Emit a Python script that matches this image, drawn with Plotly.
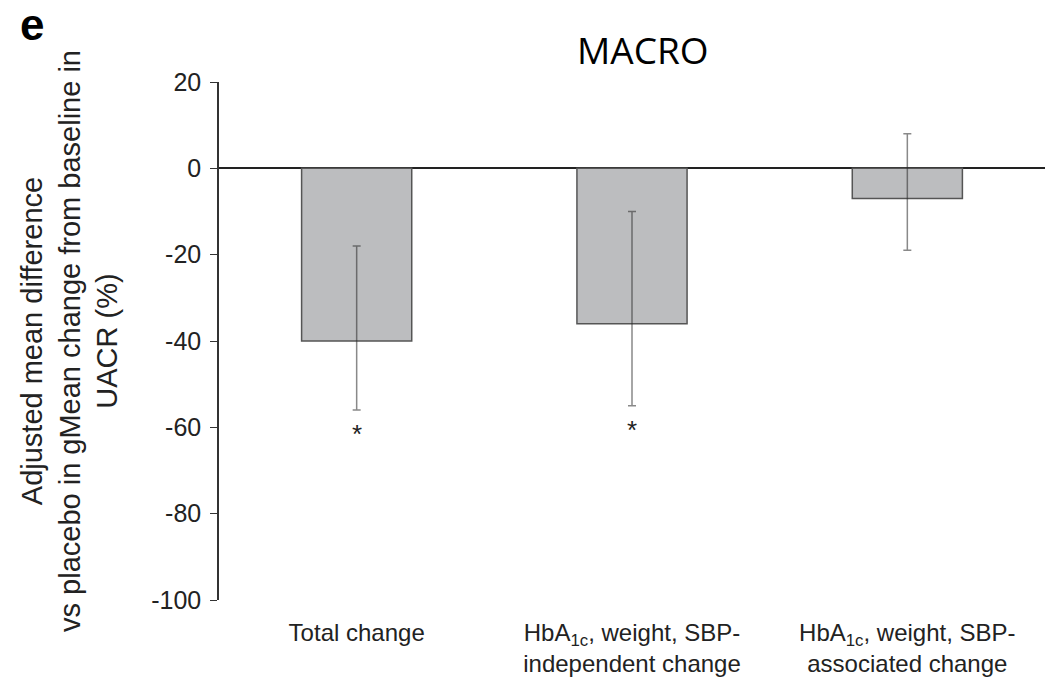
import plotly.graph_objects as go

# Adjusted mean difference vs placebo in gMean change from baseline in UACR (%)
categories = [
    "Total change",
    "HbA<sub>1c</sub>, weight, SBP-<br>independent change",
    "HbA<sub>1c</sub>, weight, SBP-<br>associated change",
]
mean_diff = [-40, -36, -7]
ci_upper = [-18, -10, 8]
ci_lower = [-56, -55, -19]
significance = ["*", "*", ""]
y_ticks = [20, 0, -20, -40, -60, -80, -100]
y_tick_text = ["20", "0", "-20", "-40", "-60", "-80", "-100"]

err_plus = [u - m for u, m in zip(ci_upper, mean_diff)]
err_minus = [m - l for m, l in zip(mean_diff, ci_lower)]

base_font = "Liberation Sans, Arial"

fig = go.Figure()

fig.add_trace(go.Bar(
    x=categories,
    y=mean_diff,
    width=0.4,
    marker=dict(color="#bcbdbf", line=dict(color="#555555", width=1.5)),
    error_y=dict(
        type="data",
        symmetric=False,
        array=err_plus,
        arrayminus=err_minus,
        color="rgba(40,40,40,0.55)",
        thickness=1.5,
        width=4,
    ),
    showlegend=False,
))

# significance markers just below the lower confidence limit
star_annotations = [
    dict(
        text=mark,
        x=cat, y=low,
        xref="x", yref="y",
        yshift=-24,
        xanchor="center", yanchor="middle",
        showarrow=False,
        font=dict(family=base_font, size=26, color="#222222"),
    )
    for cat, low, mark in zip(categories, ci_lower, significance)
    if mark
]

axis_font = dict(family=base_font, size=25, color="#222222")

fig.update_layout(
    width=1060,
    height=685,
    autosize=False,
    margin=dict(l=219, r=15, t=82, b=85),
    paper_bgcolor="white",
    plot_bgcolor="white",
    xaxis=dict(
        type="category",
        range=[-0.5, 2.5],
        automargin=False,
        showline=False,
        showgrid=False,
        zeroline=False,
        ticks="",
        tickfont=dict(family=base_font, size=24, color="#222222"),
        ticklabelstandoff=16,
    ),
    yaxis=dict(
        range=[-100, 20],
        automargin=False,
        tickvals=y_ticks,
        ticktext=y_tick_text,
        showline=True,
        linecolor="#333333",
        linewidth=1.5,
        ticks="outside",
        ticklen=7,
        tickwidth=1.2,
        tickcolor="#333333",
        showgrid=False,
        zeroline=True,
        zerolinecolor="#222222",
        zerolinewidth=1.5,
        tickfont=axis_font,
        ticklabelstandoff=4,
    ),
    annotations=star_annotations + [
        dict(
            text="MACRO",
            xref="paper", yref="paper",
            x=(643 - 219) / 826, y=1,
            yshift=33,
            xanchor="center", yanchor="middle",
            showarrow=False,
            font=dict(family="Open Sans", size=37, color="#000000"),
        ),
        dict(
            text="<b>e</b>",
            xref="paper", yref="paper",
            x=0, y=1,
            xshift=-187, yshift=58,
            xanchor="center", yanchor="middle",
            showarrow=False,
            font=dict(family=base_font, size=44, color="#000000"),
        ),
        dict(
            text="Adjusted mean difference<br>vs placebo in gMean change from baseline in<br>UACR (%)",
            xref="paper", yref="paper",
            x=0, y=0.5,
            xshift=-150,
            xanchor="center", yanchor="middle",
            textangle=-90,
            showarrow=False,
            font=dict(family=base_font, size=29, color="#222222"),
        ),
    ],
)

fig.write_html("out.html")
